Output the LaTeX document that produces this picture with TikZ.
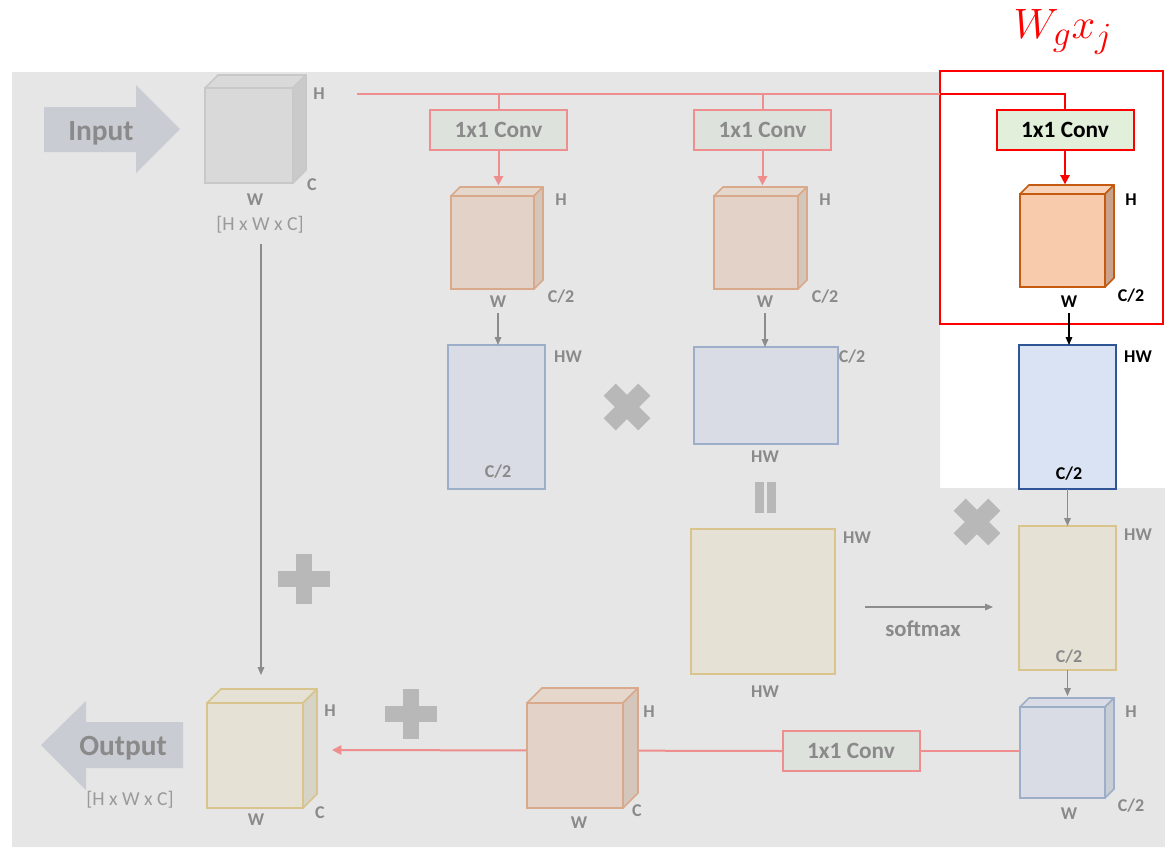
\documentclass[tikz,border=0pt]{standalone}
\usepackage{fontspec}
\setmainfont{Carlito}
\usetikzlibrary{arrows.meta,calc}
\definecolor{bgc}{HTML}{E6E6E6}
\definecolor{pinkl}{HTML}{EF8E8E}
\definecolor{convf}{HTML}{DEE2DC}
\definecolor{fadet}{HTML}{8A8A8A}
\definecolor{dimt}{HTML}{9A9A9A}
\definecolor{salf}{HTML}{E3D2C7}
\definecolor{salt}{HTML}{E6D7CD}
\definecolor{sals}{HTML}{D5C6BC}
\definecolor{salb}{HTML}{D8A98A}
\definecolor{bluf}{HTML}{D9DCE4}
\definecolor{blub}{HTML}{9DAEC9}
\definecolor{blus}{HTML}{C9CDD6}
\definecolor{yelf}{HTML}{E5E2D5}
\definecolor{yelb}{HTML}{D8C48C}
\definecolor{yels}{HTML}{D6D3C7}
\definecolor{grcf}{HTML}{D9D9D9}
\definecolor{grcb}{HTML}{C8C8C8}
\definecolor{grcs}{HTML}{CACACA}
\definecolor{arrf}{HTML}{C9CCD3}
\definecolor{crossc}{HTML}{B8B8B8}
\definecolor{grayar}{HTML}{8C8C8C}
\definecolor{hconvf}{HTML}{E2EFDA}
\definecolor{hsalf}{HTML}{F8CBAD}
\definecolor{hsalt}{HTML}{F9D3B9}
\definecolor{hsals}{HTML}{C9A38B}
\definecolor{hsalb}{HTML}{C55A11}
\definecolor{hbluf}{HTML}{DAE3F3}
\definecolor{hblub}{HTML}{2F5597}
\newcommand{\cubedepth}[5]{%
  \filldraw[fill=#3, draw=#5, line width=1.3pt, line join=round] (#1.north west) -- ++(#2,-#2) -- ($(#1.north east)+(#2,-#2)$) -- (#1.north east) -- cycle;
  \filldraw[fill=#4, draw=#5, line width=1.3pt, line join=round] (#1.north east) -- ($(#1.north east)+(#2,-#2)$) -- ($(#1.south east)+(#2,-#2)$) -- (#1.south east) -- cycle;}
\newcommand{\xcross}[1]{%
  \fill[crossc, rotate around={45:(#1)}] ($(#1)+(-24.5,-8.5)$) rectangle ($(#1)+(24.5,8.5)$);
  \fill[crossc, rotate around={45:(#1)}] ($(#1)+(-8.5,-24.5)$) rectangle ($(#1)+(8.5,24.5)$);}
\newcommand{\pcross}[1]{%
  \fill[crossc] ($(#1)+(-26,-8)$) rectangle ($(#1)+(26,8)$);
  \fill[crossc] ($(#1)+(-8,-25)$) rectangle ($(#1)+(8,25)$);}
\begin{document}
\begin{tikzpicture}[x=0.75pt,y=-0.75pt,
  lbl/.style={font=\fontsize{13.5}{15}\selectfont\bfseries, text=fadet, inner sep=0pt},
  lblk/.style={lbl, text=black},
  dimlbl/.style={font=\fontsize{14.8}{16}\selectfont, text=dimt, inner sep=0pt},
  convbox/.style={draw=pinkl, fill=convf, line width=1.5pt, minimum width=102.75pt, minimum height=30.5pt, inner sep=0pt, outer sep=0pt, text=fadet, font=\fontsize{17.5}{19}\selectfont\bfseries},
  hconvbox/.style={convbox, draw=red, fill=hconvf, text=black},
  facebox/.style={line width=1.3pt, inner sep=0pt, outer sep=0pt},
  pinkline/.style={draw=pinkl, line width=1.5pt},
  pinkarrow/.style={pinkline, -{Triangle[width=7pt,length=7pt]}},
  redarrow/.style={draw=red, line width=1.5pt, -{Triangle[width=7pt,length=7pt]}},
  grayarrow/.style={draw=grayar, line width=0.8pt, -{Triangle[width=5pt,length=6pt]}},
  blackarrow/.style={draw=black, line width=0.8pt, -{Triangle[width=5pt,length=6pt]}},
  bigarrow/.style={fill=arrf, draw=none},
  bigtxt/.style={font=\fontsize{22}{24}\selectfont\bfseries, text=fadet, inner sep=0pt}
]
\useasboundingbox (0,0) rectangle (1165,847);
% background
\fill[bgc] (12,72) -- (940,72) -- (940,488) -- (1165,488) -- (1165,847) -- (12,847) -- cycle;
\node[draw=red, line width=1.6pt, minimum width=167.25pt, minimum height=189.75pt, inner sep=0pt] (focus) at (1051.5,197.5) {};
\node[text=red, inner sep=0pt] (wg) at (1063,32) {\scalebox{1.28}{\fontsize{24.88}{27}\selectfont $W_g x_j$}};

% input arrow
\fill[bigarrow] (44,107) -- (136,107) -- (136,85) -- (180,129) -- (136,173) -- (136,152) -- (44,152) -- cycle;
\node[bigtxt] (intxt) at (101,133) {Input};
% output arrow
\fill[bigarrow] (183,722) -- (86,722) -- (86,701) -- (41,745) -- (86,790) -- (86,768) -- (183,768) -- cycle;
\node[bigtxt] (outtxt) at (123,748) {Output};

% input cube
\node[facebox, fill=grcf, draw=grcb, minimum width=66pt, minimum height=71.25pt] (cin) at (249,135.5) {};
\cubedepth{cin}{13}{grcf}{grcs}{grcb}
\node[lbl] (cinH) at (319,94) {H};
\node[lbl] (cinC) at (312,185) {C};
\node[lbl] (cinW) at (255,200) {W};
\node[dimlbl] (cindim) at (260,225) {[H x W x C]};

% conv boxes
\node[convbox] (c1) at (498.5,130) {1x1 Conv};
\node[convbox] (c2) at (762.5,130) {1x1 Conv};
\node[hconvbox] (c3) at (1065,130) {1x1 Conv};
\node[convbox] (c4) at (851,751) {1x1 Conv};

% top line
\coordinate (tstart) at (357,94);
\coordinate (redin) at (940,94);
\draw[pinkline] (tstart) -- (redin);
\draw[draw=red, line width=1.5pt] (redin) -| (c3.north);
\draw[pinkline] (tstart -| c1.north) -- (c1.north);
\draw[pinkline] (tstart -| c2.north) -- (c2.north);

% cubes after conv
\node[facebox, fill=salf, draw=salb, minimum width=62.25pt, minimum height=69.75pt] (cu1) at (492.5,242.5) {};
\cubedepth{cu1}{9}{salt}{sals}{salb}
\node[facebox, fill=salf, draw=salb, minimum width=63pt, minimum height=69.75pt] (cu2) at (756,242.5) {};
\cubedepth{cu2}{9}{salt}{sals}{salb}
\node[facebox, fill=hsalf, draw=hsalb, minimum width=63.75pt, minimum height=69.75pt] (cu3) at (1062.5,240.5) {};
\cubedepth{cu3}{9}{hsalt}{hsals}{hsalb}
\draw[pinkarrow] (c1.south) -- ++(0,35);
\draw[pinkarrow] (c2.south) -- ++(0,35);
\draw[redarrow] (c3.south) -- ++(0,34);

\node[lbl] (cu1H) at (561,200) {H};
\node[lbl] (cu1C) at (561,297) {C/2};
\node[lbl] (cu1W) at (498,302) {W};
\node[lbl] (cu2H) at (825,200) {H};
\node[lbl] (cu2C) at (825,297) {C/2};
\node[lbl] (cu2W) at (765,302) {W};
\node[lblk] (cu3H) at (1131,200) {H};
\node[lblk] (cu3C) at (1131,296) {C/2};
\node[lblk] (cu3W) at (1069,302) {W};

% reshaped matrices
\node[facebox, fill=bluf, draw=blub, minimum width=72.75pt, minimum height=108pt] (r1) at (496.5,417) {};
\node[facebox, fill=bluf, draw=blub, minimum width=108pt, minimum height=72.75pt] (r2) at (766,395.5) {};
\node[facebox, fill=hbluf, draw=hblub, minimum width=72.75pt, minimum height=108pt] (r3) at (1067.5,417) {};
\draw[grayarrow, shorten <=4pt] (cu1W.south) -- (cu1W.south |- r1.north);
\draw[grayarrow, shorten <=4pt] (cu2W.south) -- (cu2W.south |- r2.north);
\draw[blackarrow, shorten <=4pt] (cu3W.south) -- (cu3W.south |- r3.north);
\node[lbl] (r1HW) at (568,357) {HW};
\node[lbl] (r1C) at (498,472) {C/2};
\node[lbl] (r2C) at (852,357) {C/2};
\node[lbl] (r2HW) at (765,457) {HW};
\node[lblk] (r3HW) at (1138,357) {HW};
\node[lblk] (r3C) at (1069,474) {C/2};

\coordinate (x1) at (627,407);
\xcross{x1}
% equals sign
\fill[crossc] (755,482) rectangle (764,513);
\fill[crossc] (767,482) rectangle (776,513);

% attention map and result
\node[facebox, fill=yelf, draw=yelb, minimum width=108pt, minimum height=108.75pt] (r4) at (763,601.5) {};
\node[facebox, fill=yelf, draw=yelb, minimum width=72.75pt, minimum height=108pt] (r5) at (1067.5,598) {};
\node[lbl] (r4HW) at (857,538) {HW};
\node[lbl] (r4HWb) at (765,692) {HW};
\node[lbl] (r5HW) at (1138,535) {HW};
\node[lbl] (r5C) at (1069,657) {C/2};
\coordinate (sm1) at (865,607);
\coordinate (sm2) at (993,607);
\draw[grayarrow] (sm1) -- (sm2);
\node[font=\fontsize{17}{19}\selectfont\bfseries, text=fadet, inner sep=0pt] (smx) at (923,629) {softmax};
\draw[grayarrow] (r3.south) -- (r5.north);
\coordinate (x2) at (977,522);
\xcross{x2}

% bottom row
\node[facebox, fill=bluf, draw=blub, minimum width=63.75pt, minimum height=68.25pt] (cu4) at (1062.5,752.5) {};
\cubedepth{cu4}{9}{bluf}{blus}{blub}
\draw[grayarrow] (r5.south) -- ++(0,26);
\node[lbl] (cu4H) at (1131,712) {H};
\node[lbl] (cu4C) at (1131,806) {C/2};
\node[lbl] (cu4W) at (1069,814) {W};

\coordinate (outtip) at (332,750);
\draw[pinkline] (c4.east) -- (c4.east -| cu4.west);
\draw[pinkarrow] (c4.west) -- (outtip);

\node[facebox, fill=salf, draw=salb, minimum width=72pt, minimum height=78.75pt] (cu5) at (575,755.5) {};
\cubedepth{cu5}{15}{salt}{sals}{salb}
\node[lbl] (cu5H) at (649,712) {H};
\node[lbl] (cu5C) at (637,811) {C};
\node[lbl] (cu5W) at (579,823) {W};

\node[facebox, fill=yelf, draw=yelb, minimum width=72pt, minimum height=78.75pt] (cuo) at (255,755.5) {};
\cubedepth{cuo}{14}{yelf}{yels}{yelb}
\node[lbl] (cuoH) at (330,711) {H};
\node[lbl] (cuoC) at (320,813) {C};
\node[lbl] (cuoW) at (256,820) {W};
\node[dimlbl] (cuodim) at (130,800) {[H x W x C]};

\coordinate (skiptip) at (261,675);
\draw[grayarrow, shorten <=8pt] (cindim.south -| skiptip) -- (skiptip);

\coordinate (p1) at (304,579);
\pcross{p1}
\coordinate (p2) at (411,714);
\pcross{p2}
\end{tikzpicture}
\end{document}
